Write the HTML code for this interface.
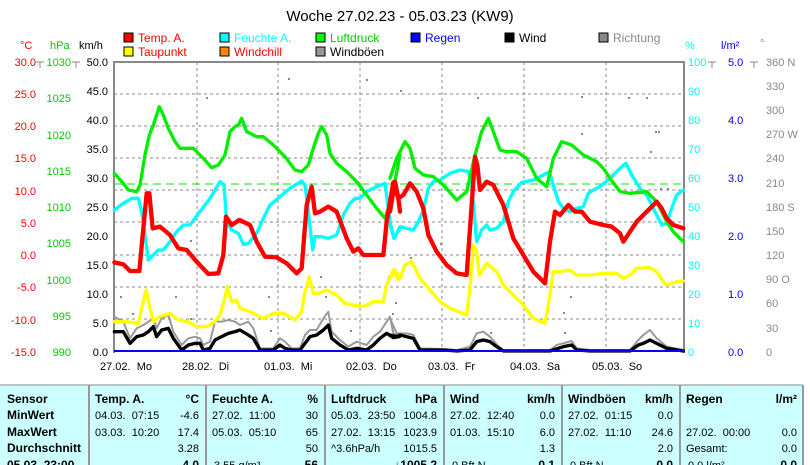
<!DOCTYPE html>
<html><head><meta charset="utf-8"><style>
html,body{margin:0;padding:0;background:#fff;width:810px;height:465px;overflow:hidden}
svg{display:block;font-family:"Liberation Sans",sans-serif}
</style></head><body>
<svg width="810" height="465" viewBox="0 0 810 465" xmlns="http://www.w3.org/2000/svg">
<rect width="810" height="465" fill="#fff"/>
<text x="400" y="21" font-size="15" text-anchor="middle" fill="#000">Woche 27.02.23 - 05.03.23 (KW9)</text>
<g font-size="12">
<rect x="124" y="33" width="9" height="9" fill="#f00" stroke="#000"/><text x="138" y="42" fill="#f00">Temp. A.</text>
<rect x="124" y="47" width="9" height="9" fill="#ff0" stroke="#000"/><text x="138" y="56" fill="#f00">Taupunkt</text>
<rect x="220" y="33" width="9" height="9" fill="#0ff" stroke="#000"/><text x="234" y="42" fill="#0ff">Feuchte A.</text>
<rect x="220" y="47" width="9" height="9" fill="#f80" stroke="#000"/><text x="234" y="56" fill="#f00">Windchill</text>
<rect x="316" y="33" width="9" height="9" fill="#0f0" stroke="#000"/><text x="330" y="42" fill="#0c0">Luftdruck</text>
<rect x="316" y="47" width="9" height="9" fill="#999" stroke="#000"/><text x="330" y="56" fill="#000">Windböen</text>
<rect x="411" y="33" width="9" height="9" fill="#00f" stroke="#000"/><text x="425" y="42" fill="#00f">Regen</text>
<rect x="505" y="33" width="9" height="9" fill="#000" stroke="#000"/><text x="519" y="42" fill="#000">Wind</text>
<rect x="599" y="33" width="9" height="9" fill="#888" stroke="#000"/><text x="613" y="42" fill="#888">Richtung</text>
</g>
<g font-size="11">
<text x="20" y="49" fill="#f00">°C</text>
<text x="50" y="49" fill="#0c0">hPa</text>
<text x="79" y="49" fill="#000">km/h</text>
<text x="685" y="49" fill="#0ff">%</text>
<text x="721" y="49" fill="#00f">l/m²</text>
<text x="760" y="47" fill="#888">°</text>
</g>
<g font-size="11" text-anchor="end">
<g fill="#f00">
<text x="36" y="66">30.0</text><text x="36" y="98">25.0</text><text x="36" y="130">20.0</text><text x="36" y="162">15.0</text><text x="36" y="195">10.0</text><text x="36" y="227">5.0</text><text x="36" y="259">0.0</text><text x="36" y="291">-5.0</text><text x="36" y="324">-10.0</text><text x="36" y="356">-15.0</text>
</g>
<g fill="#0c0">
<text x="71" y="66">1030</text><text x="71" y="102">1025</text><text x="71" y="139">1020</text><text x="71" y="175">1015</text><text x="71" y="211">1010</text><text x="71" y="247">1005</text><text x="71" y="284">1000</text><text x="71" y="320">995</text><text x="71" y="356">990</text>
</g>
<g fill="#000">
<text x="108" y="66">50.0</text><text x="108" y="95">45.0</text><text x="108" y="124">40.0</text><text x="108" y="153">35.0</text><text x="108" y="182">30.0</text><text x="108" y="211">25.0</text><text x="108" y="240">20.0</text><text x="108" y="269">15.0</text><text x="108" y="298">10.0</text><text x="108" y="327">5.0</text><text x="108" y="356">0.0</text>
</g>
</g>
<g font-size="11">
<g fill="#0ff">
<text x="688" y="66">100</text><text x="688" y="95">90</text><text x="688" y="124">80</text><text x="688" y="153">70</text><text x="688" y="182">60</text><text x="688" y="211">50</text><text x="688" y="240">40</text><text x="688" y="269">30</text><text x="688" y="298">20</text><text x="688" y="327">10</text><text x="688" y="356">0</text>
</g>
<g fill="#00f">
<text x="728" y="66">5.0</text><text x="728" y="124">4.0</text><text x="728" y="182">3.0</text><text x="728" y="240">2.0</text><text x="728" y="298">1.0</text><text x="728" y="356">0.0</text>
</g>
<g fill="#888">
<text x="766" y="66">360 N</text><text x="766" y="90">330</text><text x="766" y="114">300</text><text x="766" y="138">270 W</text><text x="766" y="162">240</text><text x="766" y="187">210</text><text x="766" y="211">180 S</text><text x="766" y="235">150</text><text x="766" y="259">120</text><text x="766" y="283">90 O</text><text x="766" y="307">60</text><text x="766" y="332">30</text><text x="766" y="356">0</text>
</g>
</g>
<g stroke="#888" stroke-dasharray="3,3" stroke-width="1">
<line x1="197" y1="62" x2="197" y2="352"/><line x1="278" y1="62" x2="278" y2="352"/><line x1="360" y1="62" x2="360" y2="352"/><line x1="442" y1="62" x2="442" y2="352"/><line x1="524" y1="62" x2="524" y2="352"/><line x1="606" y1="62" x2="606" y2="352"/>
<line x1="114" y1="94" x2="684" y2="94"/><line x1="114" y1="126" x2="684" y2="126"/><line x1="114" y1="158" x2="684" y2="158"/><line x1="114" y1="190" x2="684" y2="190"/><line x1="114" y1="222" x2="684" y2="222"/><line x1="114" y1="255" x2="684" y2="255"/><line x1="114" y1="287" x2="684" y2="287"/><line x1="114" y1="319" x2="684" y2="319"/>
</g>
<line x1="114" y1="184" x2="684" y2="184" stroke="#0e0" stroke-dasharray="8,5"/>
<g stroke="#888" stroke-width="2" fill="none">
<line x1="114" y1="62" x2="684" y2="62"/>
<line x1="114" y1="61" x2="114" y2="353"/>
<line x1="684" y1="61" x2="684" y2="353"/>
</g>
<g stroke="#888" stroke-width="1">
<line x1="40" y1="62" x2="40" y2="68"/><line x1="36" y1="62" x2="44" y2="62"/>
<line x1="76" y1="62" x2="76" y2="68"/><line x1="72" y1="62" x2="80" y2="62"/>
<line x1="712" y1="62" x2="712" y2="68"/><line x1="708" y1="62" x2="716" y2="62"/>
<line x1="754" y1="62" x2="754" y2="68"/><line x1="750" y1="62" x2="758" y2="62"/>
</g>
<g fill="#888">
<rect x="288" y="78" width="2" height="2"/><rect x="206" y="97" width="2" height="2"/><rect x="366" y="79" width="2" height="2"/><rect x="477" y="97" width="2" height="2"/><rect x="581" y="96" width="2" height="2"/><rect x="628" y="97" width="2" height="2"/><rect x="646" y="97" width="2" height="2"/><rect x="655" y="131" width="2" height="2"/><rect x="658" y="131" width="2" height="2"/><rect x="581" y="133" width="2" height="2"/><rect x="650" y="151" width="2" height="2"/><rect x="660" y="188" width="2" height="2"/><rect x="667" y="188" width="2" height="2"/><rect x="190" y="240" width="2" height="2"/><rect x="120" y="296" width="2" height="2"/><rect x="175" y="296" width="2" height="2"/><rect x="230" y="296" width="2" height="2"/><rect x="268" y="296" width="2" height="2"/><rect x="325" y="296" width="2" height="2"/><rect x="388" y="276" width="2" height="2"/><rect x="418" y="276" width="2" height="2"/><rect x="410" y="257" width="2" height="2"/><rect x="440" y="243" width="2" height="2"/><rect x="395" y="302" width="2" height="2"/><rect x="570" y="296" width="2" height="2"/><rect x="563" y="312" width="2" height="2"/><rect x="392" y="313" width="2" height="2"/><rect x="564" y="332" width="2" height="2"/><rect x="490" y="332" width="2" height="2"/><rect x="132" y="313" width="2" height="2"/><rect x="190" y="318" width="2" height="2"/><rect x="350" y="330" width="2" height="2"/><rect x="270" y="330" width="2" height="2"/><rect x="320" y="276" width="2" height="2"/><rect x="400" y="90" width="2" height="2"/></g>
<g transform="translate(100,55) scale(0.33333)" fill="none" stroke-linejoin="round" stroke-linecap="round">
<polyline stroke="#999" stroke-width="6" points="43,785 70,800 90,850 110,820 130,810 145,800 160,790 170,820 185,790 205,780 220,830 245,870 265,850 285,845 300,850 310,870 330,860 345,800 365,800 385,795 405,800 420,810 445,800 460,820 480,880 520,880 540,850 555,860 575,880 600,880 615,840 630,825 650,825 670,790 685,770 695,830 720,855 745,875 770,860 800,870 820,845 840,830 860,800 870,785 880,835 898,840"/>
<polyline stroke="#000" stroke-width="10" points="43,830 70,830 90,865 110,845 130,840 145,830 160,815 170,845 185,825 205,820 220,850 245,885 265,870 285,865 300,865 310,885 330,880 345,855 365,845 385,835 405,830 420,825 445,840 460,850 480,885 520,885 540,870 555,880 575,885 600,885 615,865 630,845 650,840 670,825 685,810 695,850 720,870 745,885 770,880 800,885 820,870 840,850 860,835 880,848 898,845"/>
<polyline stroke="#ff0" stroke-width="10" points="43,800 80,800 115,805 125,760 138,705 148,750 160,800 180,785 210,775 235,795 265,800 290,815 320,815 345,800 360,780 372,740 382,695 395,740 410,735 420,760 450,770 490,790 520,775 550,775 585,795 605,770 615,710 628,665 640,715 655,715 680,705 710,720 735,745 760,750 790,755 820,740 850,740 860,690 880,645 895,675 900,670"/>
<polyline stroke="#0ff" stroke-width="10" points="43,465 70,445 95,430 115,430 125,470 135,540 145,615 160,600 175,585 190,585 210,560 230,530 250,510 270,510 300,470 330,430 360,380 372,390 380,500 395,525 415,535 430,568 445,565 470,535 490,490 510,450 540,425 570,400 605,378 615,390 625,470 638,585 645,545 665,545 685,550 710,540 730,480 750,445 765,430 780,430 800,410 830,395 855,385 870,500 882,550 900,520"/>
<polyline stroke="#0e0" stroke-width="10" points="43,355 70,385 85,405 110,410 120,390 135,300 148,240 160,210 178,155 190,180 205,220 225,260 240,280 280,280 310,310 335,338 355,330 375,300 390,230 405,215 415,210 425,190 440,230 470,245 490,245 520,270 555,305 585,345 605,350 625,330 640,280 655,235 665,215 680,240 690,295 710,325 740,350 770,380 800,420 830,460 855,490 875,430 900,300"/>
<polyline stroke="#f00" stroke-width="13" points="43,622 70,628 90,648 118,648 130,520 140,415 148,415 158,520 180,515 210,540 235,580 260,585 290,620 325,657 355,655 370,600 378,485 395,510 418,495 450,510 470,560 495,605 530,607 560,625 590,655 605,640 620,450 635,395 645,475 660,470 685,455 710,470 740,550 760,590 775,580 790,600 850,600 860,500 880,382 895,430 900,470"/>
</g>
<g transform="translate(390,55) scale(0.33333)" fill="none" stroke-linejoin="round" stroke-linecap="round">
<polyline stroke="#999" stroke-width="6" points="0,790 20,835 30,835 50,835 70,840 90,880 160,882 200,885 240,875 260,835 280,830 300,845 320,868 340,885 480,885 500,870 520,865 545,858 560,880 600,885 720,885 745,855 760,840 780,825 800,850 830,875 880,885"/>
<polyline stroke="#000" stroke-width="10" points="0,840 20,845 30,840 70,850 90,885 160,885 200,888 240,885 260,860 280,855 300,860 320,875 340,888 480,888 520,875 545,870 560,885 600,888 720,888 745,870 760,865 780,855 800,865 830,880 880,888"/>
<polyline stroke="#ff0" stroke-width="10" points="0,670 15,645 30,670 45,630 65,620 90,670 120,705 150,740 180,760 205,770 230,780 240,700 250,570 260,590 268,660 290,625 320,650 340,690 370,720 400,750 430,790 465,805 480,720 490,650 510,650 540,645 560,660 600,660 640,655 680,655 700,670 720,660 740,640 780,638 800,650 820,680 830,690 860,680 880,678"/>
<polyline stroke="#0ff" stroke-width="10" points="0,510 12,550 30,515 50,520 70,525 85,500 100,465 115,400 130,380 150,375 180,355 210,345 235,350 245,385 252,470 260,560 275,525 290,510 300,525 320,520 340,500 355,440 370,410 395,382 430,375 460,360 478,350 490,390 505,440 520,460 540,470 560,460 580,455 595,415 610,405 630,395 660,370 690,340 708,325 725,360 750,400 770,420 790,460 805,490 815,510 830,505 845,460 860,420 880,405"/>
<polyline stroke="#0e0" stroke-width="10" points="0,370 20,310 45,260 60,280 75,340 100,360 130,365 160,390 200,435 230,410 255,300 275,230 295,190 310,230 330,285 350,290 380,290 410,310 440,370 470,395 490,310 515,260 545,270 580,300 620,320 640,340 660,370 690,410 720,415 770,410 800,440 830,500 850,530 880,560"/>
<polyline stroke="#f00" stroke-width="13" points="0,470 15,380 25,430 40,420 60,385 80,410 100,460 115,540 140,590 170,630 200,655 230,660 245,450 255,305 262,330 270,405 290,380 310,390 340,450 370,550 400,600 430,650 465,685 480,560 495,470 510,480 535,450 555,470 575,470 600,500 640,510 665,515 690,535 700,560 720,530 740,500 760,480 785,455 800,440 815,460 830,490 850,510 880,520"/>
</g>
<line x1="114" y1="351" x2="684" y2="351" stroke="#00f" stroke-width="2"/>
<g font-size="11" fill="#000">
<text x="100" y="370">27.02.&#160; Mo</text>
<text x="182" y="370">28.02.&#160; Di</text>
<text x="264" y="370">01.03.&#160; Mi</text>
<text x="346" y="370">02.03.&#160; Do</text>
<text x="428" y="370">03.03.&#160; Fr</text>
<text x="510" y="370">04.03.&#160; Sa</text>
<text x="592" y="370">05.03.&#160; So</text>
</g>
<rect x="0" y="385" width="803" height="80" fill="#ccffff"/>
<line x1="0" y1="385" x2="803" y2="385" stroke="#888"/>
<g stroke="#999" stroke-width="2">
<line x1="89" y1="385" x2="89" y2="465"/><line x1="206" y1="385" x2="206" y2="465"/><line x1="325" y1="385" x2="325" y2="465"/><line x1="444" y1="385" x2="444" y2="465"/><line x1="562" y1="385" x2="562" y2="465"/><line x1="680" y1="385" x2="680" y2="465"/><line x1="803" y1="385" x2="803" y2="465"/>
</g>
<g font-size="12" fill="#000">
<g font-weight="bold">
<text x="7" y="403">Sensor</text><text x="7" y="419">MinWert</text><text x="7" y="436">MaxWert</text><text x="7" y="452">Durchschnitt</text><text x="7" y="469">05.03. 23:00</text>
<text x="95" y="403">Temp. A.</text><text x="212" y="403">Feuchte A.</text><text x="331" y="403">Luftdruck</text><text x="450" y="403">Wind</text><text x="568" y="403">Windböen</text><text x="686" y="403">Regen</text>
</g>
<g font-weight="bold" text-anchor="end">
<text x="199" y="403">°C</text><text x="318" y="403">%</text><text x="437" y="403">hPa</text><text x="555" y="403">km/h</text><text x="673" y="403">km/h</text><text x="797" y="403">l/m²</text>
<text x="199" y="469">4.0</text><text x="318" y="469">56</text><text x="437" y="469">↓1005.2</text><text x="555" y="469">0.1</text><text x="673" y="469">0.0</text><text x="797" y="469">0.0</text>
</g>
<g font-size="11">
<text x="95" y="419">04.03.&#160; 07:15</text><text x="95" y="436">03.03.&#160; 10:20</text>
<text x="212" y="419">27.02.&#160; 11:00</text><text x="212" y="436">05.03.&#160; 05:10</text><text x="214" y="469">3.55 g/m³</text>
<text x="331" y="419">05.03.&#160; 23:50</text><text x="331" y="436">27.02.&#160; 13:15</text><text x="331" y="452">^3.6hPa/h</text>
<text x="450" y="419">27.02.&#160; 12:40</text><text x="450" y="436">01.03.&#160; 15:10</text><text x="452" y="469">0 Bft N</text>
<text x="568" y="419">27.02.&#160; 01:15</text><text x="568" y="436">27.02.&#160; 11:10</text><text x="570" y="469">0 Bft N</text>
<text x="686" y="436">27.02.&#160; 00:00</text><text x="686" y="452">Gesamt:</text><text x="688" y="469">0.0 l/m²</text>
</g>
<g font-size="11" text-anchor="end">
<text x="199" y="419">-4.6</text><text x="199" y="436">17.4</text><text x="199" y="452">3.28</text>
<text x="318" y="419">30</text><text x="318" y="436">65</text><text x="318" y="452">50</text>
<text x="437" y="419">1004.8</text><text x="437" y="436">1023.9</text><text x="437" y="452">1015.5</text>
<text x="555" y="419">0.0</text><text x="555" y="436">6.0</text><text x="555" y="452">1.3</text>
<text x="673" y="419">0.0</text><text x="673" y="436">24.6</text><text x="673" y="452">2.0</text>
<text x="797" y="436">0.0</text><text x="797" y="452">0.0</text>
</g>
</g>
</svg>
</body></html>
